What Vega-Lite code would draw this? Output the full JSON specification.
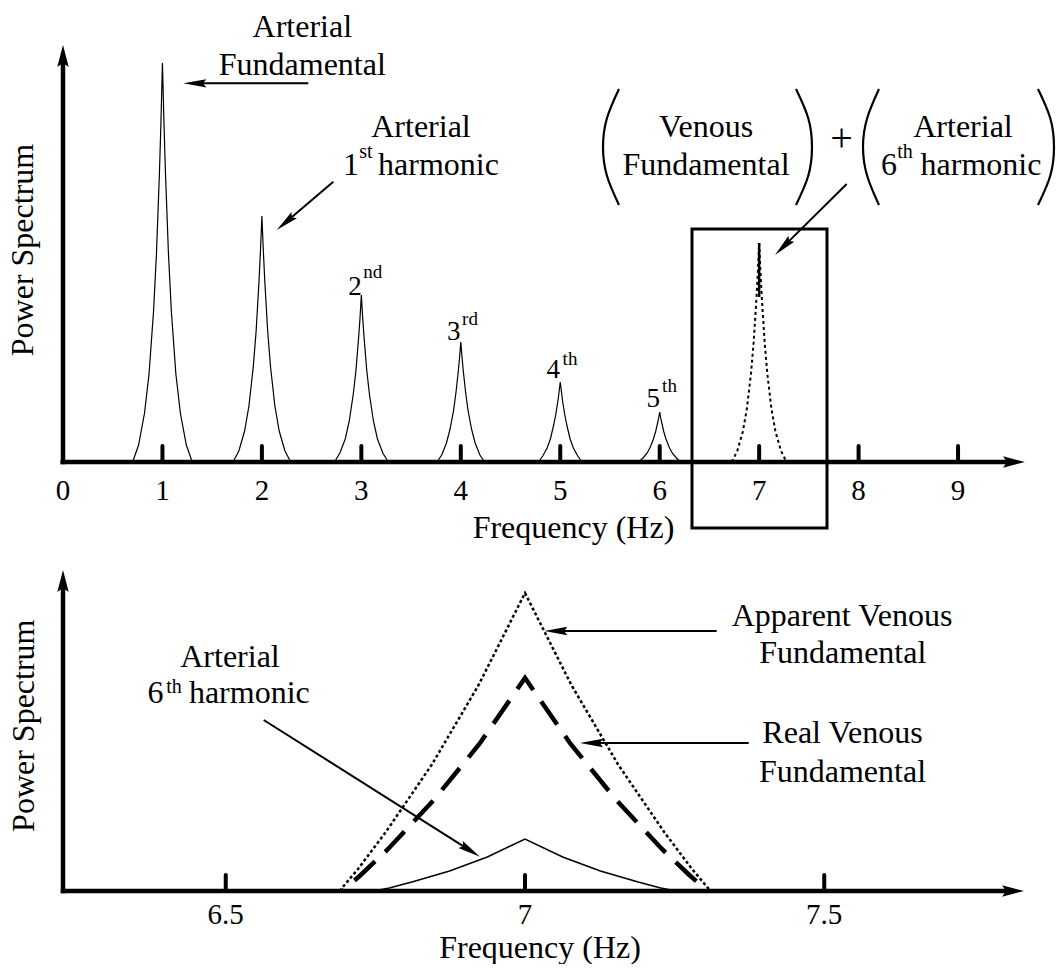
{
  "$schema": "https://vega.github.io/schema/vega-lite/v6.json",
  "padding": 0,
  "background": "white",
  "bounds": "flush",
  "spacing": 98,
  "config": {
    "view": {"stroke": null},
    "text": {"font": "Liberation Serif", "color": "black", "align": "center", "baseline": "alphabetic"},
    "line": {"color": "black"},
    "rule": {"color": "black"}
  },
  "datasets": {
    "tpk": [
      {"p":1,"x":0.70,"y":0},{"p":1,"x":0.76,"y":17},{"p":1,"x":0.82,"y":49},{"p":1,"x":0.865,"y":88},{"p":1,"x":0.91,"y":150},{"p":1,"x":0.94,"y":209},{"p":1,"x":0.97,"y":290},{"p":1,"x":0.985,"y":340},{"p":1,"x":1,"y":399},{"p":1,"x":1.015,"y":340},{"p":1,"x":1.03,"y":290},{"p":1,"x":1.06,"y":209},{"p":1,"x":1.09,"y":150},{"p":1,"x":1.135,"y":88},{"p":1,"x":1.18,"y":49},{"p":1,"x":1.24,"y":17},{"p":1,"x":1.30,"y":0},
      {"p":2,"x":1.71,"y":0},{"p":2,"x":1.768,"y":11},{"p":2,"x":1.826,"y":31},{"p":2,"x":1.8695,"y":56},{"p":2,"x":1.913,"y":95},{"p":2,"x":1.942,"y":131},{"p":2,"x":1.971,"y":181},{"p":2,"x":1.9855,"y":211},{"p":2,"x":2,"y":246},{"p":2,"x":2.0145,"y":211},{"p":2,"x":2.029,"y":181},{"p":2,"x":2.058,"y":131},{"p":2,"x":2.087,"y":95},{"p":2,"x":2.1305,"y":56},{"p":2,"x":2.174,"y":31},{"p":2,"x":2.232,"y":11},{"p":2,"x":2.29,"y":0},
      {"p":3,"x":2.73,"y":0},{"p":3,"x":2.784,"y":9},{"p":3,"x":2.838,"y":23},{"p":3,"x":2.8785,"y":41},{"p":3,"x":2.919,"y":68},{"p":3,"x":2.946,"y":92},{"p":3,"x":2.973,"y":125},{"p":3,"x":2.9865,"y":144},{"p":3,"x":3,"y":167},{"p":3,"x":3.0135,"y":144},{"p":3,"x":3.027,"y":125},{"p":3,"x":3.054,"y":92},{"p":3,"x":3.081,"y":68},{"p":3,"x":3.1215,"y":41},{"p":3,"x":3.162,"y":23},{"p":3,"x":3.216,"y":9},{"p":3,"x":3.27,"y":0},
      {"p":4,"x":3.76,"y":0},{"p":4,"x":3.808,"y":7},{"p":4,"x":3.856,"y":19},{"p":4,"x":3.892,"y":33},{"p":4,"x":3.928,"y":52},{"p":4,"x":3.952,"y":70},{"p":4,"x":3.976,"y":92},{"p":4,"x":3.988,"y":105},{"p":4,"x":4,"y":120},{"p":4,"x":4.012,"y":105},{"p":4,"x":4.024,"y":92},{"p":4,"x":4.048,"y":70},{"p":4,"x":4.072,"y":52},{"p":4,"x":4.108,"y":33},{"p":4,"x":4.144,"y":19},{"p":4,"x":4.192,"y":7},{"p":4,"x":4.24,"y":0},
      {"p":5,"x":4.78,"y":0},{"p":5,"x":4.824,"y":6},{"p":5,"x":4.868,"y":14},{"p":5,"x":4.901,"y":23},{"p":5,"x":4.934,"y":37},{"p":5,"x":4.956,"y":48},{"p":5,"x":4.978,"y":62},{"p":5,"x":4.989,"y":71},{"p":5,"x":5,"y":80},{"p":5,"x":5.011,"y":71},{"p":5,"x":5.022,"y":62},{"p":5,"x":5.044,"y":48},{"p":5,"x":5.066,"y":37},{"p":5,"x":5.099,"y":23},{"p":5,"x":5.132,"y":14},{"p":5,"x":5.176,"y":6},{"p":5,"x":5.22,"y":0},
      {"p":6,"x":5.79,"y":0},{"p":6,"x":5.832,"y":4},{"p":6,"x":5.874,"y":9},{"p":6,"x":5.9055,"y":15},{"p":6,"x":5.937,"y":23},{"p":6,"x":5.958,"y":30},{"p":6,"x":5.979,"y":39},{"p":6,"x":5.9895,"y":44},{"p":6,"x":6,"y":50},{"p":6,"x":6.0105,"y":44},{"p":6,"x":6.021,"y":39},{"p":6,"x":6.042,"y":30},{"p":6,"x":6.063,"y":23},{"p":6,"x":6.0945,"y":15},{"p":6,"x":6.126,"y":9},{"p":6,"x":6.168,"y":4},{"p":6,"x":6.21,"y":0}
    ],
    "tp7": [
      {"x":6.725,"y":0},{"x":6.78,"y":11},{"x":6.835,"y":30},{"x":6.87625,"y":53},{"x":6.9175,"y":88},{"x":6.945,"y":120},{"x":6.9725,"y":163},{"x":6.98625,"y":189},{"x":7,"y":219},{"x":7.01375,"y":189},{"x":7.0275,"y":163},{"x":7.055,"y":120},{"x":7.0825,"y":88},{"x":7.12375,"y":53},{"x":7.165,"y":30},{"x":7.22,"y":11},{"x":7.275,"y":0}
    ],
    "tspike": [{"x":7,"y":165,"x2":7,"y2":219}],
    "taxis": [{"x":-0.025,"y":0,"x2":9.5626,"y2":0},{"x":0,"y":-2.2,"x2":0,"y2":406}],
    "tticks": [{"x":1,"y":0,"x2":1,"y2":16},{"x":2,"y":0,"x2":2,"y2":16},{"x":3,"y":0,"x2":3,"y2":16},{"x":4,"y":0,"x2":4,"y2":16},{"x":5,"y":0,"x2":5,"y2":16},{"x":6,"y":0,"x2":6,"y2":16},{"x":7,"y":0,"x2":7,"y2":16},{"x":8,"y":0,"x2":8,"y2":16},{"x":9,"y":0,"x2":9,"y2":16}],
    "tbox": [{"x":6.3248,"x2":7.6823,"y":233,"y2":-66}],
    "tarrows": [{"x":2.4665,"y":378.7,"x2":1.3253,"y2":378.7},{"x":2.7180,"y":280.3,"x2":2.2368,"y2":239.46},{"x":7.8803,"y":278,"x2":7.2417,"y2":215.1}],
    "thup": [{"x":0,"y":406}],
    "thright": [{"x":9.5626,"y":0}],
    "thleft": [{"x":1.3253,"y":378.7}],
    "thd1": [{"x":2.2368,"y":239.46}],
    "thd2": [{"x":7.2417,"y":215.1}],
    "tparen": [
      {"g":1,"o":1,"x":5.5908,"y":373},{"g":1,"o":2,"x":5.4701,"y":344},{"g":1,"o":3,"x":5.4299,"y":315},{"g":1,"o":4,"x":5.4701,"y":286},{"g":1,"o":5,"x":5.5908,"y":257},
      {"g":2,"o":1,"x":7.3705,"y":373},{"g":2,"o":2,"x":7.4932,"y":344},{"g":2,"o":3,"x":7.5314,"y":315},{"g":2,"o":4,"x":7.4932,"y":286},{"g":2,"o":5,"x":7.3705,"y":257},
      {"g":3,"o":1,"x":8.2051,"y":373},{"g":3,"o":2,"x":8.0865,"y":344},{"g":3,"o":3,"x":8.0443,"y":315},{"g":3,"o":4,"x":8.0865,"y":286},{"g":3,"o":5,"x":8.2051,"y":257},
      {"g":4,"o":1,"x":9.8039,"y":373},{"g":4,"o":2,"x":9.9266,"y":344},{"g":4,"o":3,"x":9.9648,"y":315},{"g":4,"o":4,"x":9.9266,"y":286},{"g":4,"o":5,"x":9.8039,"y":257}
    ],
    "tt32": [
      {"x":2.406,"y":425,"t":"Arterial"},{"x":2.406,"y":387,"t":"Fundamental"},
      {"x":3.5998,"y":325,"t":"Arterial"},{"x":2.8959,"y":287,"t":"1"},{"x":3.7758,"y":287,"t":"harmonic"},
      {"x":6.4656,"y":325,"t":"Venous"},{"x":6.4656,"y":287,"t":"Fundamental"},
      {"x":9.0498,"y":325,"t":"Arterial"},{"x":8.3057,"y":287,"t":"6"},{"x":9.2308,"y":287,"t":"harmonic"},
      {"x":5.1332,"y":-76,"t":"Frequency (Hz)"}
    ],
    "tsup20": [{"x":3.0468,"y":304,"t":"st"},{"x":8.4666,"y":304,"t":"th"}],
    "tord27": [{"x":2.9361,"y":167,"t":"2"},{"x":3.9286,"y":122,"t":"3"},{"x":4.9301,"y":84,"t":"4"},{"x":5.9356,"y":55,"t":"5"}],
    "tsup19": [{"x":3.1141,"y":184,"t":"nd"},{"x":4.0925,"y":137,"t":"rd"},{"x":5.0980,"y":97,"t":"th"},{"x":6.0986,"y":70,"t":"th"}],
    "tlab": [{"x":0,"y":-38,"t":"0"},{"x":1,"y":-38,"t":"1"},{"x":2,"y":-38,"t":"2"},{"x":3,"y":-38,"t":"3"},{"x":4,"y":-38,"t":"4"},{"x":5,"y":-38,"t":"5"},{"x":6,"y":-38,"t":"6"},{"x":7,"y":-38,"t":"7"},{"x":8,"y":-38,"t":"8"},{"x":9,"y":-38,"t":"9"}],
    "tplus": [{"x":7.8280,"y":311,"t":"+"}],
    "tytitle": [{"x":-0.3017,"y":212,"t":"Power Spectrum"}],
    "bapp": [{"x":6.69,"y":0},{"x":6.721,"y":22},{"x":6.7675,"y":59},{"x":6.845,"y":127},{"x":6.9225,"y":206},{"x":7,"y":298},{"x":7.0775,"y":206},{"x":7.155,"y":127},{"x":7.2325,"y":59},{"x":7.279,"y":22},{"x":7.31,"y":0}],
    "breal": [{"x":6.695,"y":0},{"x":6.7255,"y":16},{"x":6.77125,"y":42},{"x":6.8475,"y":91},{"x":6.92375,"y":147},{"x":7,"y":213},{"x":7.07625,"y":147},{"x":7.1525,"y":91},{"x":7.22875,"y":42},{"x":7.2745,"y":16},{"x":7.305,"y":0}],
    "bart": [{"x":6.748,"y":0},{"x":6.7732,"y":3},{"x":6.811,"y":9},{"x":6.874,"y":20},{"x":6.937,"y":34},{"x":7,"y":52},{"x":7.063,"y":34},{"x":7.126,"y":20},{"x":7.189,"y":9},{"x":7.2268,"y":3},{"x":7.252,"y":0}],
    "baxis": [{"x":6.2243,"y":0,"x2":7.8154,"y2":0},{"x":6.2281,"y":-2.2,"x2":6.2281,"y2":310}],
    "bticks": [{"x":6.5,"y":0,"x2":6.5,"y2":16},{"x":7,"y":0,"x2":7,"y2":16},{"x":7.5,"y":0,"x2":7.5,"y2":16}],
    "barrows": [{"x":6.5634,"y":171,"x2":6.9086,"y2":40.44},{"x":7.3203,"y":260,"x2":7.0516,"y2":260},{"x":7.3738,"y":148,"x2":7.1111,"y2":148}],
    "bhup": [{"x":6.2281,"y":310}],
    "bhright": [{"x":7.8154,"y":0}],
    "bhleft": [{"x":7.0516,"y":260},{"x":7.1111,"y":148}],
    "bhdiag": [{"x":6.9086,"y":40.44}],
    "bt32": [
      {"x":6.5071,"y":224,"t":"Arterial"},{"x":6.3826,"y":188,"t":"6"},{"x":6.5394,"y":188,"t":"harmonic"},
      {"x":7.5297,"y":265,"t":"Apparent Venous"},{"x":7.531,"y":228,"t":"Fundamental"},
      {"x":7.5305,"y":148,"t":"Real Venous"},{"x":7.5305,"y":109,"t":"Fundamental"},
      {"x":7.0251,"y":-67,"t":"Frequency (Hz)"}
    ],
    "bsup20": [{"x":6.4135,"y":198,"t":"th"}],
    "blab": [{"x":6.5,"y":-33,"t":"6.5"},{"x":7,"y":-33,"t":"7"},{"x":7.5,"y":-33,"t":"7.5"}],
    "bytitle": [{"x":6.1796,"y":165.3,"t":"Power Spectrum"}]
  },
  "resolve": {"scale": {"x": "independent", "y": "independent"}},
  "vconcat": [
    {
      "width": 1057,
      "height": 462,
      "encoding": {
        "x": {"field": "x", "type": "quantitative", "scale": {"domain": [-0.63348, 9.99497], "nice": false, "zero": false}, "axis": null},
        "y": {"field": "y", "type": "quantitative", "scale": {"domain": [0, 462], "nice": false, "zero": false}, "axis": null}
      },
      "layer": [
        {"data": {"name": "tpk"}, "mark": {"type": "line", "strokeWidth": 1.2}, "encoding": {"detail": {"field": "p"}}},
        {"data": {"name": "tp7"}, "mark": {"type": "line", "strokeWidth": 2, "strokeDash": [3, 3]}, "encoding": {}},
        {"data": {"name": "tspike"}, "mark": {"type": "rule", "strokeWidth": 2.5}, "encoding": {"x2": {"field": "x2"}, "y2": {"field": "y2"}}},
        {"data": {"name": "tparen"}, "mark": {"type": "line", "strokeWidth": 2.2, "interpolate": "natural"}, "encoding": {"detail": {"field": "g"}, "order": {"field": "o"}}},
        {"data": {"name": "taxis"}, "mark": {"type": "rule", "strokeWidth": 4.5}, "encoding": {"x2": {"field": "x2"}, "y2": {"field": "y2"}}},
        {"data": {"name": "tticks"}, "mark": {"type": "rule", "strokeWidth": 4, "strokeCap": "round"}, "encoding": {"x2": {"field": "x2"}, "y2": {"field": "y2"}}},
        {"data": {"name": "tbox"}, "mark": {"type": "rect", "fillOpacity": 0, "stroke": "black", "strokeWidth": 3}, "encoding": {"x2": {"field": "x2"}, "y2": {"field": "y2"}}},
        {"data": {"name": "tarrows"}, "mark": {"type": "rule", "strokeWidth": 2}, "encoding": {"x2": {"field": "x2"}, "y2": {"field": "y2"}}},
        {"data": {"name": "thup"}, "mark": {"type": "point", "shape": "M0,-1L0.52,1L0,0.64L-0.52,1Z", "size": 484, "filled": true, "color": "black", "opacity": 1, "strokeWidth": 0, "angle": 0}},
        {"data": {"name": "thright"}, "mark": {"type": "point", "shape": "M0,-1L0.52,1L0,0.64L-0.52,1Z", "size": 484, "filled": true, "color": "black", "opacity": 1, "strokeWidth": 0, "angle": 90}},
        {"data": {"name": "thleft"}, "mark": {"type": "point", "shape": "M0,-1L0.36,1L0,0.72L-0.36,1Z", "size": 529, "filled": true, "color": "black", "opacity": 1, "strokeWidth": 0, "angle": 270}},
        {"data": {"name": "thd1"}, "mark": {"type": "point", "shape": "M0,-1L0.36,1L0,0.72L-0.36,1Z", "size": 529, "filled": true, "color": "black", "opacity": 1, "strokeWidth": 0, "angle": 229.5}},
        {"data": {"name": "thd2"}, "mark": {"type": "point", "shape": "M0,-1L0.36,1L0,0.72L-0.36,1Z", "size": 529, "filled": true, "color": "black", "opacity": 1, "strokeWidth": 0, "angle": 225.3}},
        {"data": {"name": "tt32"}, "mark": {"type": "text", "fontSize": 32}, "encoding": {"text": {"field": "t"}}},
        {"data": {"name": "tsup20"}, "mark": {"type": "text", "fontSize": 20}, "encoding": {"text": {"field": "t"}}},
        {"data": {"name": "tord27"}, "mark": {"type": "text", "fontSize": 27}, "encoding": {"text": {"field": "t"}}},
        {"data": {"name": "tsup19"}, "mark": {"type": "text", "fontSize": 19}, "encoding": {"text": {"field": "t"}}},
        {"data": {"name": "tlab"}, "mark": {"type": "text", "fontSize": 29}, "encoding": {"text": {"field": "t"}}},
        {"data": {"name": "tplus"}, "mark": {"type": "text", "fontSize": 40}, "encoding": {"text": {"field": "t"}}},
        {"data": {"name": "tytitle"}, "mark": {"type": "text", "fontSize": 32, "angle": 270}, "encoding": {"text": {"field": "t"}}}
      ]
    },
    {
      "width": 1057,
      "height": 331,
      "encoding": {
        "x": {"field": "x", "type": "quantitative", "scale": {"domain": [6.12281, 7.88889], "nice": false, "zero": false}, "axis": null},
        "y": {"field": "y", "type": "quantitative", "scale": {"domain": [0, 331], "nice": false, "zero": false}, "axis": null}
      },
      "layer": [
        {"data": {"name": "bapp"}, "mark": {"type": "line", "strokeWidth": 2.5, "strokeDash": [3, 2.5]}, "encoding": {}},
        {"data": {"name": "breal"}, "mark": {"type": "line", "strokeWidth": 4.5, "strokeDash": [28, 14], "strokeDashOffset": 26}, "encoding": {}},
        {"data": {"name": "bart"}, "mark": {"type": "line", "strokeWidth": 1.5}, "encoding": {}},
        {"data": {"name": "baxis"}, "mark": {"type": "rule", "strokeWidth": 4.5}, "encoding": {"x2": {"field": "x2"}, "y2": {"field": "y2"}}},
        {"data": {"name": "bticks"}, "mark": {"type": "rule", "strokeWidth": 4, "strokeCap": "round"}, "encoding": {"x2": {"field": "x2"}, "y2": {"field": "y2"}}},
        {"data": {"name": "barrows"}, "mark": {"type": "rule", "strokeWidth": 2}, "encoding": {"x2": {"field": "x2"}, "y2": {"field": "y2"}}},
        {"data": {"name": "bhup"}, "mark": {"type": "point", "shape": "M0,-1L0.52,1L0,0.64L-0.52,1Z", "size": 484, "filled": true, "color": "black", "opacity": 1, "strokeWidth": 0, "angle": 0}},
        {"data": {"name": "bhright"}, "mark": {"type": "point", "shape": "M0,-1L0.52,1L0,0.64L-0.52,1Z", "size": 484, "filled": true, "color": "black", "opacity": 1, "strokeWidth": 0, "angle": 90}},
        {"data": {"name": "bhleft"}, "mark": {"type": "point", "shape": "M0,-1L0.36,1L0,0.72L-0.36,1Z", "size": 529, "filled": true, "color": "black", "opacity": 1, "strokeWidth": 0, "angle": 270}},
        {"data": {"name": "bhdiag"}, "mark": {"type": "point", "shape": "M0,-1L0.36,1L0,0.72L-0.36,1Z", "size": 529, "filled": true, "color": "black", "opacity": 1, "strokeWidth": 0, "angle": 122.3}},
        {"data": {"name": "bt32"}, "mark": {"type": "text", "fontSize": 32}, "encoding": {"text": {"field": "t"}}},
        {"data": {"name": "bsup20"}, "mark": {"type": "text", "fontSize": 20}, "encoding": {"text": {"field": "t"}}},
        {"data": {"name": "blab"}, "mark": {"type": "text", "fontSize": 29}, "encoding": {"text": {"field": "t"}}},
        {"data": {"name": "bytitle"}, "mark": {"type": "text", "fontSize": 32, "angle": 270}, "encoding": {"text": {"field": "t"}}}
      ]
    }
  ]
}
